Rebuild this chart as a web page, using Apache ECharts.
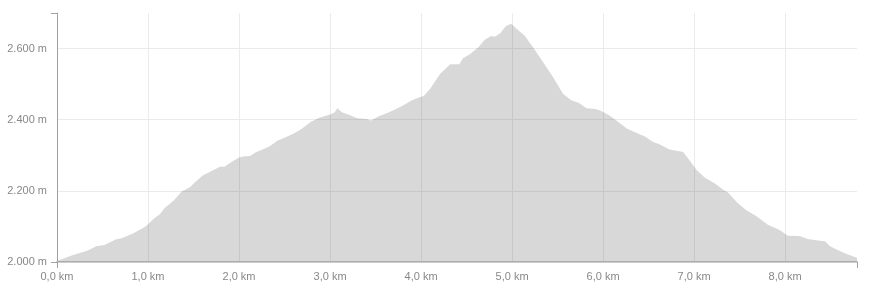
<!DOCTYPE html>
<html>
<head>
<meta charset="utf-8">
<script src="https://cdn.jsdelivr.net/npm/echarts@6/dist/echarts.min.js"></script>
<style>
html,body{margin:0;padding:0;background:#fff;}
#chart{width:875px;height:297px;}
</style>
</head>
<body>
<div id="chart"></div>
<script>
const distanceKm = [0.00,0.16,0.34,0.43,0.52,0.65,0.71,0.84,0.89,0.96,1.00,1.07,1.13,1.18,1.28,1.37,1.46,1.51,1.60,1.71,1.79,1.84,1.92,2.00,2.06,2.12,2.18,2.30,2.34,2.42,2.50,2.60,2.67,2.73,2.79,2.89,3.00,3.05,3.08,3.13,3.20,3.30,3.40,3.45,3.53,3.64,3.71,3.80,3.90,3.99,4.03,4.10,4.21,4.32,4.42,4.46,4.54,4.63,4.70,4.77,4.81,4.87,4.93,4.99,5.05,5.14,5.23,5.34,5.45,5.56,5.65,5.73,5.82,5.89,5.95,6.00,6.07,6.15,6.26,6.37,6.46,6.55,6.62,6.73,6.84,6.88,6.95,7.03,7.12,7.23,7.32,7.37,7.47,7.57,7.69,7.81,7.94,8.03,8.16,8.25,8.38,8.44,8.49,8.56,8.67,8.79];
const elevationM = [2003,2018,2032,2044,2048,2064,2067,2081,2088,2098,2106,2123,2134,2151,2172,2198,2210,2223,2243,2257,2268,2268,2282,2294,2297,2298,2308,2321,2326,2341,2349,2361,2371,2382,2394,2406,2415,2420,2432,2421,2415,2404,2402,2398,2409,2420,2428,2440,2455,2464,2467,2487,2529,2556,2556,2573,2585,2604,2625,2635,2633,2643,2663,2670,2656,2636,2604,2562,2520,2473,2455,2448,2432,2431,2428,2422,2412,2397,2375,2363,2353,2337,2331,2316,2311,2309,2286,2258,2237,2221,2203,2196,2168,2146,2128,2105,2090,2074,2073,2065,2060,2058,2045,2036,2023,2012];
const xTickLabels = [0,1,2,3,4,5,6,7,8];
const yTickLabels = [2000,2200,2400,2600];
const xMax = 8.79;
const yMin = 2000, yMax = 2700;

const chart = echarts.init(document.getElementById('chart'), null, {renderer:'canvas'});
const fontFamily = '"Liberation Sans", Arial, sans-serif';
const labelColor = '#888';
const gridColor = '#ebebeb';
const axisDark = '#a0a0a0';
chart.setOption({
  animation: false,
  grid: {left: 57, right: 18, top: 13, bottom: 35, containLabel: false},
  xAxis: [{
    type: 'value', min: 0, max: xMax, interval: 1, position: 'bottom',
    axisLine: {show: true, lineStyle: {color: '#ccc', width: 2}},
    axisTick: {show: false},
    axisLabel: {
      showMaxLabel: false, margin: 9,
      color: labelColor, fontFamily: fontFamily, fontSize: 11,
      formatter: v => v.toFixed(1).replace('.', ',') + ' km'
    },
    splitLine: {show: true, showMinLine: false, showMaxLine: false, lineStyle: {color: gridColor, width: 1}}
  }, {
    type: 'value', min: 0, max: xMax, position: 'bottom', offset: 0,
    axisLine: {show: false},
    axisTick: {show: true, customValues: [0, xMax], length: 6, lineStyle: {color: axisDark, width: 1}},
    axisLabel: {show: false},
    splitLine: {show: false}
  }],
  yAxis: [{
    type: 'value', min: yMin, max: yMax, interval: 200, position: 'left',
    axisLine: {show: true, lineStyle: {color: axisDark, width: 1}},
    axisTick: {show: false},
    axisLabel: {
      showMaxLabel: false, margin: 10,
      color: labelColor, fontFamily: fontFamily, fontSize: 11,
      formatter: v => String(v).replace(/\B(?=(\d{3})+(?!\d))/g, '.') + ' m'
    },
    splitLine: {show: true, showMinLine: false, showMaxLine: false, lineStyle: {color: gridColor, width: 1}}
  }, {
    type: 'value', min: yMin, max: yMax, position: 'left', offset: 0,
    axisLine: {show: false},
    axisTick: {show: true, customValues: [yMin, yMax], length: 6, lineStyle: {color: axisDark, width: 1}},
    axisLabel: {show: false},
    splitLine: {show: false}
  }],
  series: [{
    type: 'line',
    xAxisIndex: 0, yAxisIndex: 0,
    data: distanceKm.map((d, i) => [d, elevationM[i]]),
    showSymbol: false,
    smooth: false,
    lineStyle: {width: 0},
    areaStyle: {color: 'rgba(0,0,0,0.153)', opacity: 1, origin: 'start'},
    z: 2
  }]
});
</script>
</body>
</html>
